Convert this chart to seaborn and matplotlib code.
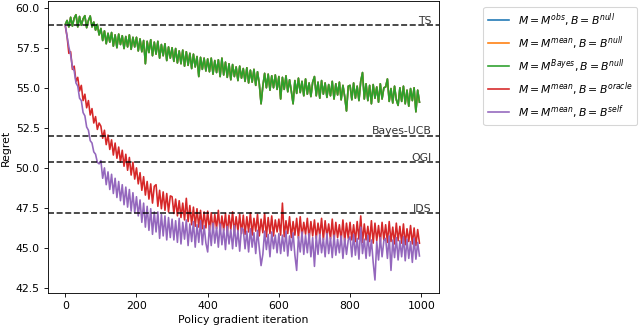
import numpy as np
import matplotlib
matplotlib.use("Agg")
import matplotlib.pyplot as plt
import seaborn as sns

# iterations sampled every 5 steps
iterations = np.arange(0, 1000, 5)

regret_bayes_null = [
    58.95, 59.2, 58.8, 59.4, 58.85, 59.35, 59.56, 58.8, 59.45, 58.9, 59.3, 59.5, 58.75, 59.2, 59.48, 58.8, 59.1, 58.6, 58.95, 58.3,
    58.7, 57.95, 58.55, 57.75, 58.4, 57.85, 58.45, 57.6, 58.3, 57.5, 58.35, 57.7, 58.25, 57.45, 58.2, 57.55, 58.3, 57.4, 58.15, 57.55,
    58.15, 57.3, 58.05, 57.25, 57.95, 56.5, 57.9, 57.2, 58.0, 57.0, 57.85, 57.1, 57.9, 56.85, 57.7, 57.0, 57.75, 56.7, 57.55, 56.85,
    57.5, 56.65, 57.45, 56.55, 57.3, 56.5, 57.35, 56.35, 57.25, 56.4, 57.15, 56.2, 57.1, 56.3, 56.95, 55.7, 56.9, 56.15, 56.85, 56.05,
    56.8, 56.0, 56.85, 55.85, 56.7, 55.95, 56.75, 55.7, 56.85, 55.8, 56.6, 55.65, 56.5, 55.5, 56.45, 55.7, 56.3, 55.45, 56.35, 55.6,
    56.2, 55.4, 56.25, 55.3, 56.1, 55.35, 56.15, 55.15, 56.0, 55.25, 54.0, 55.1, 55.9, 55.0, 55.85, 54.85, 55.75, 55.0, 55.8, 54.9,
    55.7, 54.3, 55.65, 54.9, 55.75, 54.75, 55.5, 54.8, 54.0, 55.45, 54.65, 55.6, 54.7, 55.4, 54.5, 55.55, 54.6, 55.3, 54.45, 55.35,
    55.7, 54.5, 55.35, 54.35, 55.45, 54.6, 55.3, 54.4, 55.2, 54.5, 55.4, 54.3, 55.25, 54.55, 55.35, 54.25, 55.15, 54.45, 53.55, 55.1,
    55.15, 54.25, 55.3, 54.35, 55.1, 54.2, 55.4, 55.95, 54.3, 55.25, 54.2, 55.15, 54.0, 55.2, 54.35, 55.05, 54.1, 55.25, 54.3, 55.0,
    55.05, 55.55, 54.15, 54.95, 54.05, 55.1, 54.25, 53.9, 55.0, 54.15, 55.1, 54.0, 54.85, 53.85, 54.95, 54.2, 55.0, 53.5, 54.85, 54.1,
]

# hidden under the green curve in the reference
regret_obs_null = list(regret_bayes_null)
regret_mean_null = list(regret_bayes_null)

regret_mean_oracle = [
    58.85, 58.2, 57.15, 57.25, 56.15, 56.35, 55.4, 55.65, 54.8, 55.15, 54.2, 54.6, 53.75, 54.2, 53.3, 53.7, 52.8, 53.2, 52.4, 52.8,
    52.6, 51.85, 52.35, 51.45, 52.05, 51.15, 51.75, 50.8, 51.55, 50.6, 51.3, 50.35, 51.1, 50.1, 50.85, 49.85, 50.65, 49.55, 50.35, 49.3,
    50.0, 49.0, 49.7, 48.6, 49.45, 48.3, 49.15, 48.05, 49.0, 47.8, 48.85, 48.95, 47.6, 48.6, 47.45, 48.5, 47.35, 48.4, 47.25, 48.25,
    48.2, 47.15, 48.05, 47.0, 47.95, 46.9, 47.8, 46.75, 48.1, 46.65, 47.65, 46.45, 47.55, 46.35, 47.45, 46.3, 47.35, 46.2, 47.25, 46.25,
    47.3, 46.1, 47.2, 46.05, 47.1, 46.2, 47.35, 46.0, 47.0, 46.1, 47.15, 45.9, 47.05, 46.15, 47.25, 45.95, 46.95, 46.05, 47.1, 45.9,
    47.05, 45.85, 46.95, 46.0, 47.2, 45.8, 46.85, 46.05, 47.1, 45.75, 46.8, 45.95, 47.15, 45.7, 46.9, 45.9, 47.0, 45.75, 46.75, 46.0,
    46.8, 45.8, 47.8, 45.7, 46.7, 45.9, 46.95, 45.65, 46.65, 45.8, 46.85, 45.6, 46.95, 45.7, 46.6, 45.85, 46.85, 45.55, 46.65, 45.75,
    46.75, 45.6, 46.55, 45.75, 46.85, 45.5, 46.7, 45.7, 46.5, 45.55, 46.8, 45.45, 46.6, 45.65, 46.45, 45.5, 46.75, 45.4, 46.55, 45.6,
    46.6, 45.5, 46.45, 45.4, 46.65, 45.55, 47.0, 45.35, 46.5, 45.5, 46.35, 45.4, 46.7, 45.3, 46.55, 45.45, 46.4, 45.35, 46.6, 45.5,
    46.45, 45.35, 46.65, 45.4, 46.3, 45.25, 46.55, 45.45, 46.35, 45.3, 46.5, 45.2, 46.2, 45.4, 46.4, 45.25, 46.25, 45.15, 46.15, 45.3,
]

regret_mean_self = [
    58.9, 58.2, 57.55, 57.05, 56.3, 56.05, 55.3, 55.1, 54.35, 54.2, 53.45, 53.25, 52.55, 52.35, 51.7, 51.55, 51.0, 50.85, 50.35, 50.25,
    50.45, 49.35, 50.0, 48.95, 49.75, 48.65, 49.6, 48.4, 49.35, 48.15, 49.15, 47.95, 48.95, 47.7, 48.8, 47.55, 48.65, 47.3, 48.45, 47.2,
    48.2, 47.0, 48.0, 46.6, 47.8, 46.3, 47.6, 46.1, 47.45, 45.85, 47.25, 46.0, 47.25, 45.6, 47.1, 45.75, 47.0, 45.5, 46.9, 45.65,
    46.8, 45.5, 46.7, 45.35, 46.85, 45.25, 46.6, 45.55, 46.75, 45.15, 46.5, 45.4, 46.65, 45.05, 46.45, 45.35, 46.7, 45.2, 46.4, 45.3,
    44.75, 46.4, 45.15, 46.55, 45.3, 46.3, 45.05, 46.5, 45.2, 46.2, 44.9, 46.35, 45.25, 46.15, 44.95, 46.4, 45.1, 46.1, 44.8, 46.25,
    46.15, 44.95, 46.05, 44.75, 46.2, 45.05, 45.95, 44.65, 46.1, 45.0, 43.9, 44.6, 46.05, 44.9, 45.85, 44.45, 46.0, 44.95, 45.8, 44.7,
    45.9, 44.65, 45.8, 44.8, 46.05, 44.5, 45.75, 44.85, 45.95, 44.55, 43.6, 45.7, 44.75, 46.0, 44.6, 45.8, 44.7, 45.9, 44.45, 45.65,
    43.85, 45.75, 44.6, 45.85, 44.7, 45.6, 44.45, 45.9, 44.65, 45.65, 44.4, 45.8, 44.55, 45.55, 44.7, 45.75, 44.35, 45.6, 44.6, 45.5,
    45.7, 44.45, 45.85, 44.55, 45.6, 44.3, 46.3, 44.65, 45.55, 44.35, 45.8, 44.5, 45.5, 44.1, 43.0, 45.4, 44.25, 45.65, 44.45, 45.45,
    45.6, 44.35, 45.75, 43.6, 45.5, 44.4, 45.65, 44.25, 45.45, 44.45, 45.7, 44.2, 45.55, 44.35, 45.4, 44.1, 45.6, 44.3, 45.35, 44.5,
]

series_labels = [
    r"$M = M^{obs}, B = B^{null}$",
    r"$M = M^{mean}, B = B^{null}$",
    r"$M = M^{Bayes}, B = B^{null}$",
    r"$M = M^{mean}, B = B^{oracle}$",
    r"$M = M^{mean}, B = B^{self}$",
]

baseline_names = ["TS", "Bayes-UCB", "OGI", "IDS"]
baseline_values = [58.94, 52.02, 50.38, 47.17]

colors = sns.color_palette("tab10")

fig = plt.figure(figsize=(8.21, 4.195), dpi=78)
ax = fig.add_axes([0.0742, 0.103, 0.6108, 0.892])

all_series = [regret_obs_null, regret_mean_null, regret_bayes_null,
              regret_mean_oracle, regret_mean_self]
for i, (vals, lab) in enumerate(zip(all_series, series_labels)):
    sns.lineplot(x=iterations, y=vals, ax=ax, color=colors[i], label=lab,
                 linewidth=1.5)

for name, val in zip(baseline_names, baseline_values):
    ax.axhline(val, color="k", linestyle="--", linewidth=1.5, alpha=0.85)
    ax.text(1030, val + 0.08, name, ha="right", va="baseline", color="0.2")

ax.set_xlim(-49.95, 1048.95)
ax.set_ylim(42.17, 60.39)
ax.set_xticks([0, 200, 400, 600, 800, 1000])
ax.set_yticks([42.5, 45.0, 47.5, 50.0, 52.5, 55.0, 57.5, 60.0])
ax.set_xlabel("Policy gradient iteration")
ax.set_ylabel("Regret")

ax.legend(loc="upper left", bbox_to_anchor=(0.755, 0.979),
          bbox_transform=fig.transFigure, borderaxespad=0)

fig.savefig("out.png", dpi=78)
